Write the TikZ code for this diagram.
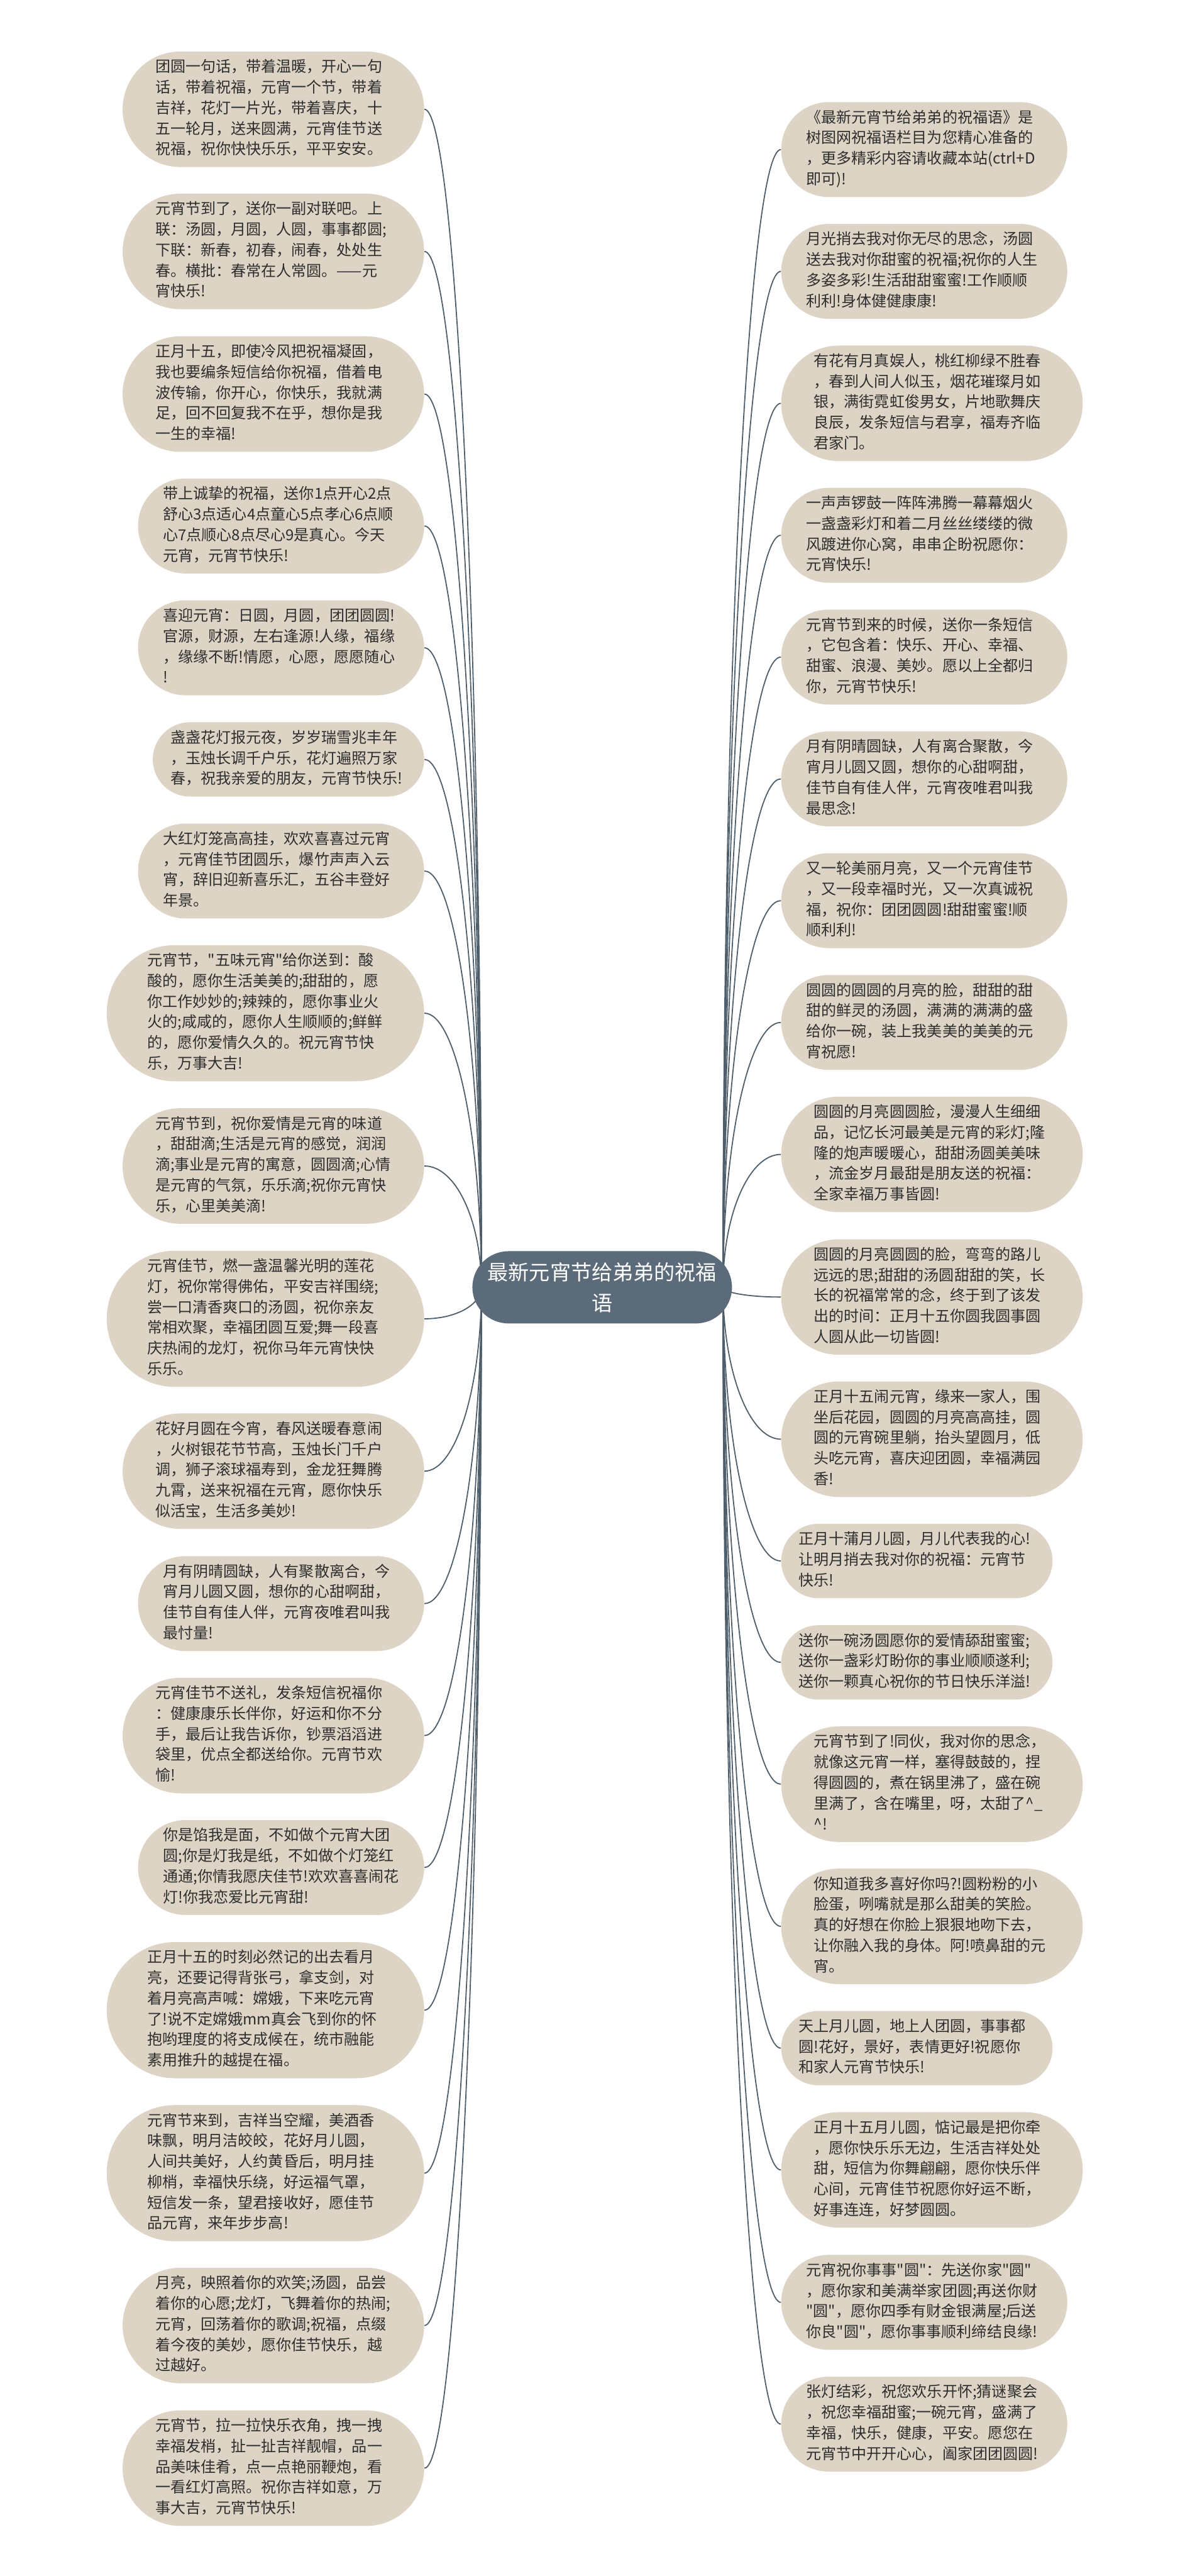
\documentclass[tikz,border=0pt]{standalone}
\usepackage{fontspec}
\newfontfamily\cjk{Noto Sans CJK SC}
\usetikzlibrary{shapes.misc,calc}
\definecolor{wishfill}{HTML}{DDD4C5}
\definecolor{wishink}{HTML}{2E2E2E}
\definecolor{corefill}{HTML}{5B6B79}
\definecolor{threadc}{HTML}{4F5E6B}

\begin{document}
\begin{tikzpicture}[
  wish/.style={rounded rectangle, fill=wishfill, text=wishink, text width=5.1cm, align=left,
               inner xsep=0.024cm, inner ysep=0.135cm, font=\cjk\fontsize{9.3pt}{12.66pt}\selectfont,
               execute at begin node=\strut, execute at end node=\strut},
  corebox/.style={rounded rectangle, fill=corefill, text=white, text width=5.1cm, align=center,
                  inner xsep=0.035cm, minimum height=1.56cm, font=\cjk\fontsize{12.8pt}{19pt}\selectfont},
  thread/.style={draw=threadc, line width=0.7pt,
                 to path={.. controls ($(\tikztostart)!0.55!(\tikztostart |- \tikztotarget)$)
                          and ($(\tikztotarget)!0.55!(\tikztostart |- \tikztotarget)$) .. (\tikztotarget)}}
]
\fill[white] (0,0) rectangle (25.60,-55.63);
\coordinate (coreL) at (10.40,-27.80);
\coordinate (coreR) at (15.62,-27.80);
% left side
\node[wish, anchor=east] (l1) at (9.17,-2.36) {团圆一句话，带着温暖，开心一句\\话，带着祝福，元宵一个节，带着\\吉祥，花灯一片光，带着喜庆，十\\五一轮月，送来圆满，元宵佳节送\\祝福，祝你快快乐乐，平平安安。};
\draw[thread] (coreL) to (l1.east);
\node[wish, anchor=east] (l2) at (9.17,-5.43) {元宵节到了，送你一副对联吧。上\\联：汤圆，月圆，人圆，事事都圆;\\下联：新春，初春，闹春，处处生\\春。横批：春常在人常圆。——元\\宵快乐!};
\draw[thread] (coreL) to (l2.east);
\node[wish, anchor=east] (l3) at (9.17,-8.51) {正月十五，即使冷风把祝福凝固，\\我也要编条短信给你祝福，借着电\\波传输，你开心，你快乐，我就满\\足，回不回复我不在乎，想你是我\\一生的幸福!};
\draw[thread] (coreL) to (l3.east);
\node[wish, anchor=east] (l4) at (9.17,-11.36) {带上诚挚的祝福，送你1点开心2点\\舒心3点适心4点童心5点孝心6点顺\\心7点顺心8点尽心9是真心。今天\\元宵，元宵节快乐!};
\draw[thread] (coreL) to (l4.east);
\node[wish, anchor=east] (l5) at (9.17,-13.99) {喜迎元宵：日圆，月圆，团团圆圆!\\官源，财源，左右逢源!人缘，福缘\\，缘缘不断!情愿，心愿，愿愿随心\\!};
\draw[thread] (coreL) to (l5.east);
\node[wish, anchor=east] (l6) at (9.17,-16.40) {盏盏花灯报元夜，岁岁瑞雪兆丰年\\，玉烛长调千户乐，花灯遍照万家\\春，祝我亲爱的朋友，元宵节快乐!};
\draw[thread] (coreL) to (l6.east);
\node[wish, anchor=east] (l7) at (9.17,-18.81) {大红灯笼高高挂，欢欢喜喜过元宵\\，元宵佳节团圆乐，爆竹声声入云\\宵，辞旧迎新喜乐汇，五谷丰登好\\年景。};
\draw[thread] (coreL) to (l7.east);
\node[wish, anchor=east] (l8) at (9.17,-21.88) {元宵节，"五味元宵"给你送到：酸\\酸的，愿你生活美美的;甜甜的，愿\\你工作妙妙的;辣辣的，愿你事业火\\火的;咸咸的，愿你人生顺顺的;鲜鲜\\的，愿你爱情久久的。祝元宵节快\\乐，万事大吉!};
\draw[thread] (coreL) to (l8.east);
\node[wish, anchor=east] (l9) at (9.17,-25.18) {元宵节到，祝你爱情是元宵的味道\\，甜甜滴;生活是元宵的感觉，润润\\滴;事业是元宵的寓意，圆圆滴;心情\\是元宵的气氛，乐乐滴;祝你元宵快\\乐，心里美美滴!};
\draw[thread] (coreL) to (l9.east);
\node[wish, anchor=east] (l10) at (9.17,-28.48) {元宵佳节，燃一盏温馨光明的莲花\\灯，祝你常得佛佑，平安吉祥围绕;\\尝一口清香爽口的汤圆，祝你亲友\\常相欢聚，幸福团圆互爱;舞一段喜\\庆热闹的龙灯，祝你马年元宵快快\\乐乐。};
\draw[thread] (coreL) to (l10.east);
\node[wish, anchor=east] (l11) at (9.17,-31.77) {花好月圆在今宵，春风送暖春意闹\\，火树银花节节高，玉烛长门千户\\调，狮子滚球福寿到，金龙狂舞腾\\九霄，送来祝福在元宵，愿你快乐\\似活宝，生活多美妙!};
\draw[thread] (coreL) to (l11.east);
\node[wish, anchor=east] (l12) at (9.17,-34.63) {月有阴晴圆缺，人有聚散离合，今\\宵月儿圆又圆，想你的心甜啊甜，\\佳节自有佳人伴，元宵夜唯君叫我\\最忖量!};
\draw[thread] (coreL) to (l12.east);
\node[wish, anchor=east] (l13) at (9.17,-37.48) {元宵佳节不送礼，发条短信祝福你\\：健康康乐长伴你，好运和你不分\\手，最后让我告诉你，钞票滔滔进\\袋里，优点全都送给你。元宵节欢\\愉!};
\draw[thread] (coreL) to (l13.east);
\node[wish, anchor=east] (l14) at (9.17,-40.33) {你是馅我是面，不如做个元宵大团\\圆;你是灯我是纸，不如做个灯笼红\\通通;你情我愿庆佳节!欢欢喜喜闹花\\灯!你我恋爱比元宵甜!};
\draw[thread] (coreL) to (l14.east);
\node[wish, anchor=east] (l15) at (9.17,-43.41) {正月十五的时刻必然记的出去看月\\亮，还要记得背张弓，拿支剑，对\\着月亮高声喊：嫦娥，下来吃元宵\\了!说不定嫦娥mm真会飞到你的怀\\抱哟理度的将支成候在，统市融能\\素用推升的越提在福。};
\draw[thread] (coreL) to (l15.east);
\node[wish, anchor=east] (l16) at (9.17,-46.93) {元宵节来到，吉祥当空耀，美酒香\\味飘，明月洁皎皎，花好月儿圆，\\人间共美好，人约黄昏后，明月挂\\柳梢，幸福快乐绕，好运福气罩，\\短信发一条，望君接收好，愿佳节\\品元宵，来年步步高!};
\draw[thread] (coreL) to (l16.east);
\node[wish, anchor=east] (l17) at (9.17,-50.22) {月亮，映照着你的欢笑;汤圆，品尝\\着你的心愿;龙灯，飞舞着你的热闹;\\元宵，回荡着你的歌调;祝福，点缀\\着今夜的美妙，愿你佳节快乐，越\\过越好。};
\draw[thread] (coreL) to (l17.east);
\node[wish, anchor=east] (l18) at (9.17,-53.30) {元宵节，拉一拉快乐衣角，拽一拽\\幸福发梢，扯一扯吉祥靓帽，品一\\品美味佳肴，点一点艳丽鞭炮，看\\一看红灯高照。祝你吉祥如意，万\\事大吉，元宵节快乐!};
\draw[thread] (coreL) to (l18.east);
% right side
\node[wish, anchor=west] (r1) at (16.87,-3.23) {《最新元宵节给弟弟的祝福语》是\\树图网祝福语栏目为您精心准备的\\，更多精彩内容请收藏本站(ctrl+D\\即可)!};
\draw[thread] (coreR) to (r1.west);
\node[wish, anchor=west] (r2) at (16.87,-5.86) {月光捎去我对你无尽的思念，汤圆\\送去我对你甜蜜的祝福;祝你的人生\\多姿多彩!生活甜甜蜜蜜!工作顺顺\\利利!身体健健康康!};
\draw[thread] (coreR) to (r2.west);
\node[wish, anchor=west] (r3) at (16.87,-8.71) {有花有月真娱人，桃红柳绿不胜春\\，春到人间人似玉，烟花璀璨月如\\银，满街霓虹俊男女，片地歌舞庆\\良辰，发条短信与君享，福寿齐临\\君家门。};
\draw[thread] (coreR) to (r3.west);
\node[wish, anchor=west] (r4) at (16.87,-11.56) {一声声锣鼓一阵阵沸腾一幕幕烟火\\一盏盏彩灯和着二月丝丝缕缕的微\\风踱进你心窝，串串企盼祝愿你：\\元宵快乐!};
\draw[thread] (coreR) to (r4.west);
\node[wish, anchor=west] (r5) at (16.87,-14.19) {元宵节到来的时候，送你一条短信\\，它包含着：快乐、开心、幸福、\\甜蜜、浪漫、美妙。愿以上全都归\\你，元宵节快乐!};
\draw[thread] (coreR) to (r5.west);
\node[wish, anchor=west] (r6) at (16.87,-16.82) {月有阴晴圆缺，人有离合聚散，今\\宵月儿圆又圆，想你的心甜啊甜，\\佳节自有佳人伴，元宵夜唯君叫我\\最思念!};
\draw[thread] (coreR) to (r6.west);
\node[wish, anchor=west] (r7) at (16.87,-19.45) {又一轮美丽月亮，又一个元宵佳节\\，又一段幸福时光，又一次真诚祝\\福，祝你：团团圆圆!甜甜蜜蜜!顺\\顺利利!};
\draw[thread] (coreR) to (r7.west);
\node[wish, anchor=west] (r8) at (16.87,-22.08) {圆圆的圆圆的月亮的脸，甜甜的甜\\甜的鲜灵的汤圆，满满的满满的盛\\给你一碗，装上我美美的美美的元\\宵祝愿!};
\draw[thread] (coreR) to (r8.west);
\node[wish, anchor=west] (r9) at (16.87,-24.93) {圆圆的月亮圆圆脸，漫漫人生细细\\品，记忆长河最美是元宵的彩灯;隆\\隆的炮声暖暖心，甜甜汤圆美美味\\，流金岁月最甜是朋友送的祝福：\\全家幸福万事皆圆!};
\draw[thread] (coreR) to (r9.west);
\node[wish, anchor=west] (r10) at (16.87,-28.01) {圆圆的月亮圆圆的脸，弯弯的路儿\\远远的思;甜甜的汤圆甜甜的笑，长\\长的祝福常常的念，终于到了该发\\出的时间：正月十五你圆我圆事圆\\人圆从此一切皆圆!};
\draw[thread] (coreR) to (r10.west);
\node[wish, anchor=west] (r11) at (16.87,-31.08) {正月十五闹元宵，缘来一家人，围\\坐后花园，圆圆的月亮高高挂，圆\\圆的元宵碗里躺，抬头望圆月，低\\头吃元宵，喜庆迎团圆，幸福满园\\香!};
\draw[thread] (coreR) to (r11.west);
\node[wish, anchor=west] (r12) at (16.87,-33.71) {正月十蒲月儿圆，月儿代表我的心!\\让明月捎去我对你的祝福：元宵节\\快乐!};
\draw[thread] (coreR) to (r12.west);
\node[wish, anchor=west] (r13) at (16.87,-35.90) {送你一碗汤圆愿你的爱情舔甜蜜蜜;\\送你一盏彩灯盼你的事业顺顺遂利;\\送你一颗真心祝你的节日快乐洋溢!};
\draw[thread] (coreR) to (r13.west);
\node[wish, anchor=west] (r14) at (16.87,-38.53) {元宵节到了!同伙，我对你的思念，\\就像这元宵一样，塞得鼓鼓的，捏\\得圆圆的，煮在锅里沸了，盛在碗\\里满了，含在嘴里，呀，太甜了\textasciicircum\_\\\textasciicircum!};
\draw[thread] (coreR) to (r14.west);
\node[wish, anchor=west] (r15) at (16.87,-41.60) {你知道我多喜好你吗?!圆粉粉的小\\脸蛋，咧嘴就是那么甜美的笑脸。\\真的好想在你脸上狠狠地吻下去，\\让你融入我的身体。阿!喷鼻甜的元\\宵。};
\draw[thread] (coreR) to (r15.west);
\node[wish, anchor=west] (r16) at (16.87,-44.23) {天上月儿圆，地上人团圆，事事都\\圆!花好，景好，表情更好!祝愿你\\和家人元宵节快乐!};
\draw[thread] (coreR) to (r16.west);
\node[wish, anchor=west] (r17) at (16.87,-46.86) {正月十五月儿圆，惦记最是把你牵\\，愿你快乐乐无边，生活吉祥处处\\甜，短信为你舞翩翩，愿你快乐伴\\心间，元宵佳节祝愿你好运不断，\\好事连连，好梦圆圆。};
\draw[thread] (coreR) to (r17.west);
\node[wish, anchor=west] (r18) at (16.87,-49.72) {元宵祝你事事"圆"：先送你家"圆"\\，愿你家和美满举家团圆;再送你财\\"圆"，愿你四季有财金银满屋;后送\\你良"圆"，愿你事事顺利缔结良缘!};
\draw[thread] (coreR) to (r18.west);
\node[wish, anchor=west] (r19) at (16.87,-52.35) {张灯结彩，祝您欢乐开怀;猜谜聚会\\，祝您幸福甜蜜;一碗元宵，盛满了\\幸福，快乐，健康，平安。愿您在\\元宵节中开开心心，阖家团团圆圆!};
\draw[thread] (coreR) to (r19.west);
% centre
\node[corebox] (core) at (13.01,-27.80) {最新元宵节给弟弟的祝福\\语};
\end{tikzpicture}
\end{document}
